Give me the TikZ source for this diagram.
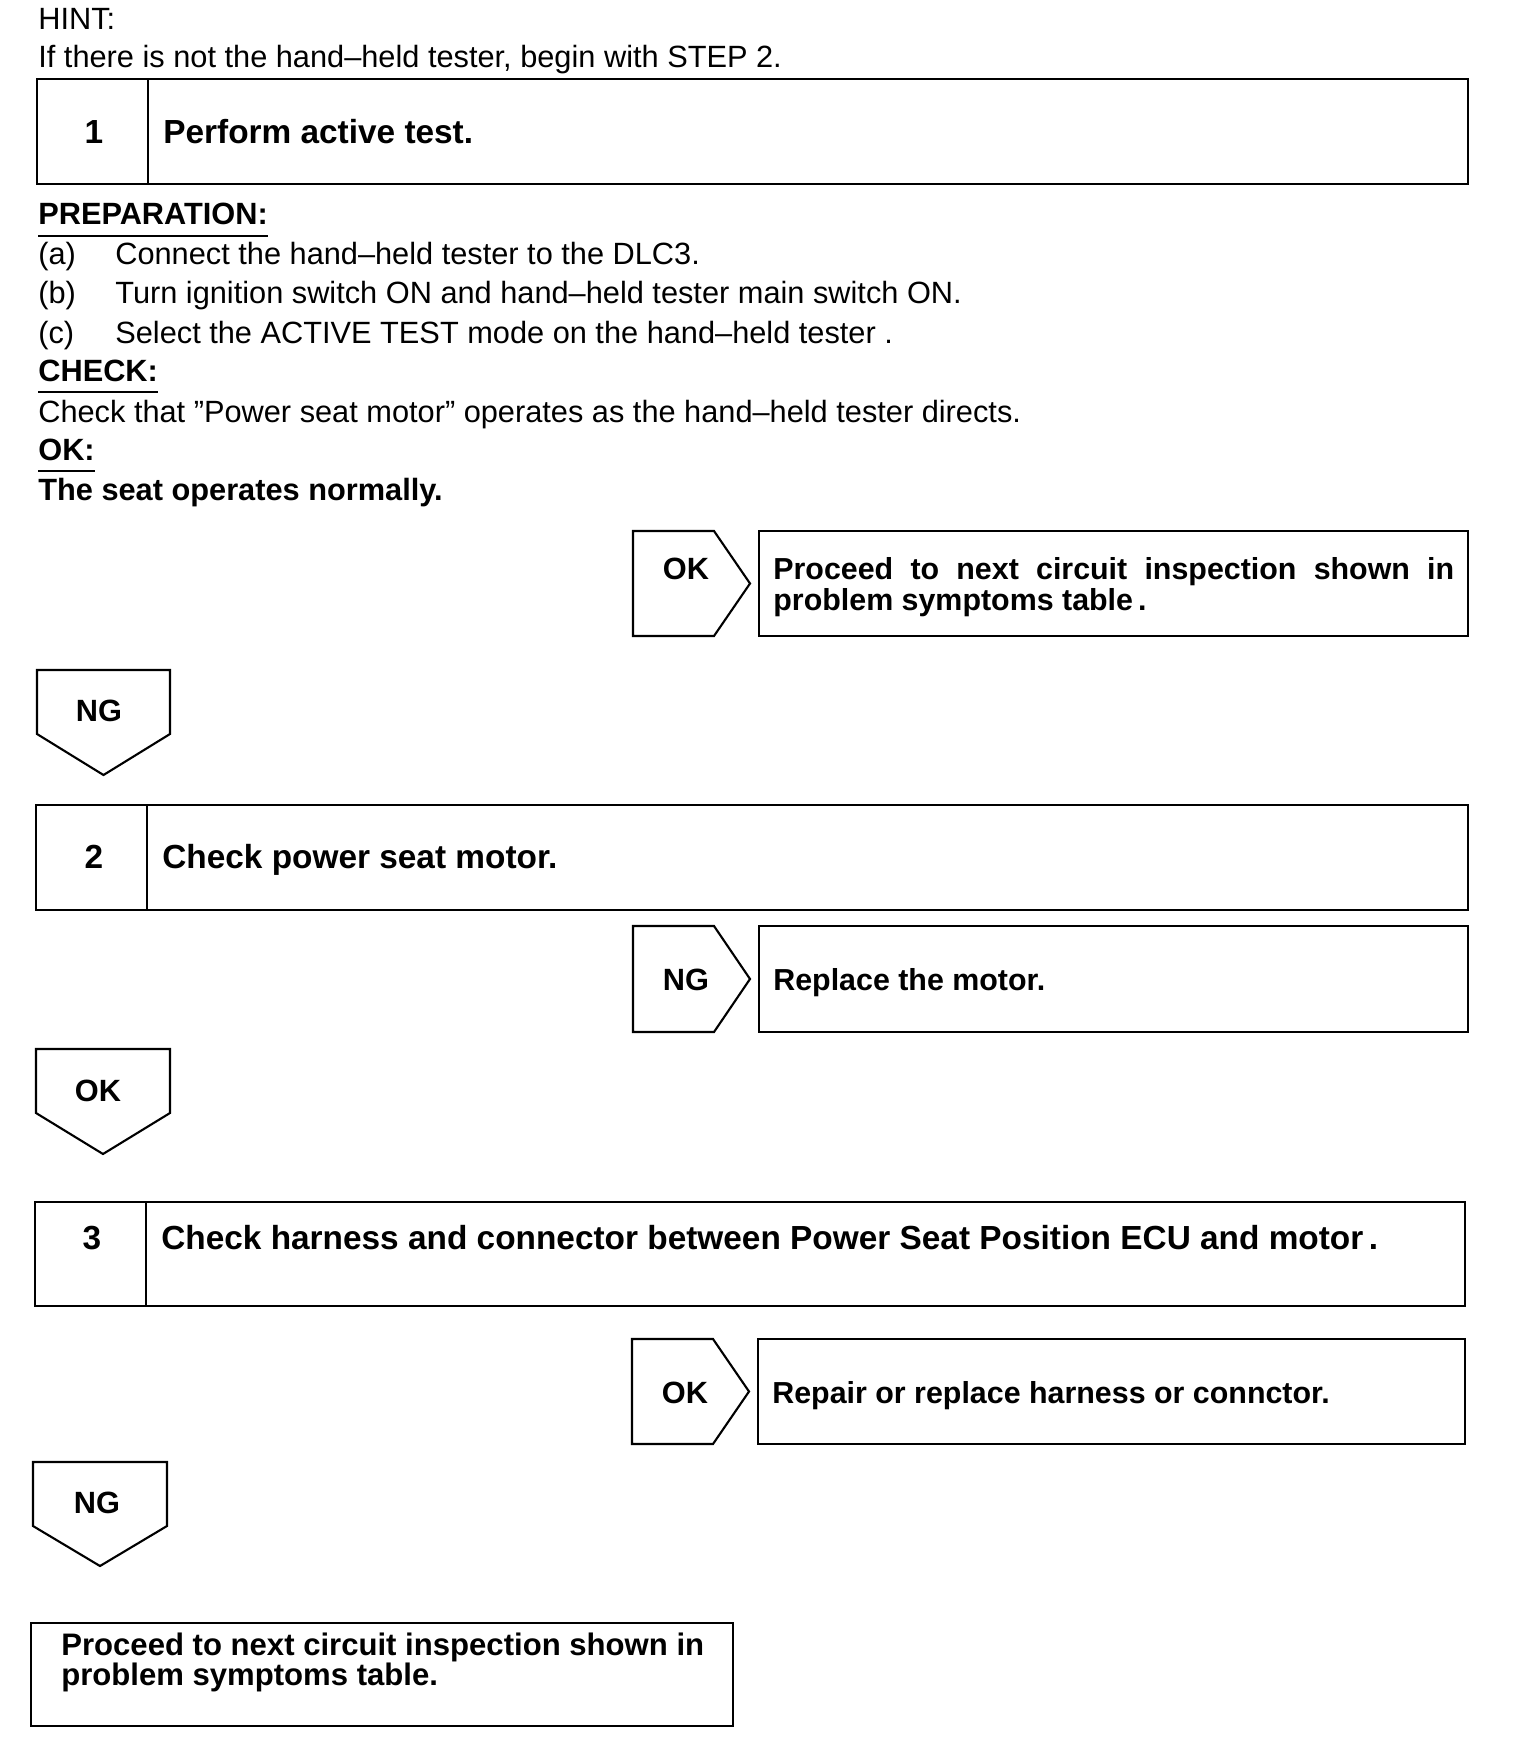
\documentclass[tikz,border=0pt]{standalone}
\usepackage{fontspec}
\setmainfont{Liberation Sans}
\usetikzlibrary{positioning}

\begin{document}
\begin{tikzpicture}[x=0.02cm,y=-0.02cm,
    every node/.style={inner sep=0pt},
    body/.style={anchor=base west,font=\fontsize{17.5}{21}\selectfont},
    bodybold/.style={anchor=base west,font=\bfseries\fontsize{17.5}{21}\selectfont},
    title/.style={anchor=base west,font=\bfseries\fontsize{19}{22}\selectfont},
    stepnum/.style={anchor=base,font=\bfseries\fontsize{19}{22}\selectfont},
    result/.style={anchor=base west,font=\bfseries\fontsize{17.3}{18}\selectfont},
    tag/.style={anchor=base,font=\bfseries\fontsize{17.5}{21}\selectfont},
    frame/.style={line width=1.5pt},
    tagline/.style={line width=1.2pt,line join=miter},
    uline/.style={line width=1.1pt}]
  \useasboundingbox (0,0) rectangle (1520,1750);

  % Hint and step 1
  \node[body] (hint) at (38,30) {HINT:};
  \node[body] (hinttxt) at (38,68) {If there is not the hand–held tester, begin with STEP 2.};
  \draw[frame] (37,79) rectangle (1468,184);
  \draw[frame] (148,79) -- (148,184);
  \node[stepnum] (num1) at (94,144) {1};
  \node[title] (step1) at (163,144) {Perform active test.};

  % Preparation / check text
  \node[bodybold] (prep) at (38,225) {PREPARATION:};
  \draw[uline] ([yshift=-6pt]prep.base west) -- ([yshift=-6pt]prep.base east);
  \node[body] (pa) at (38,265) {(a)};
  \node[body] (patxt) at (115,265) {Connect the hand–held tester to the DLC3.};
  \node[body] (pb) at (38,304) {(b)};
  \node[body] (pbtxt) at (115,304) {Turn ignition switch ON and hand–held tester main switch ON.};
  \node[body] (pc) at (38,343) {(c)};
  \node[body] (pctxt) at (115,343) {Select the ACTIVE TEST mode on the hand–held tester .};
  \node[bodybold] (check) at (38,381) {CHECK:};
  \draw[uline] ([yshift=-6pt]check.base west) -- ([yshift=-6pt]check.base east);
  \node[body] (checktxt) at (38,422) {Check that ”Power seat motor” operates as the hand–held tester directs.};
  \node[bodybold] (ok) at (38,460) {OK:};
  \draw[uline] ([yshift=-6pt]ok.base west) -- ([yshift=-6pt]ok.base east);
  \node[bodybold] (oktxt) at (38,500) {The seat operates normally.};

  % Step 1 results
  \draw[tagline] (633,531) -- (714,531) -- (750,583.5) -- (714,636) -- (633,636) -- cycle;
  \node[tag] (ok1) at (686,579) {OK};
  \draw[frame] (759,531) rectangle (1468,636);
  \node[result] (res1a) at (773,579) {\makebox[13.62cm][s]{Proceed to next circuit inspection shown in}};
  \node[result] (res1b) at (773,610) {problem symptoms table\,.};
  \draw[tagline] (37,670) -- (170,670) -- (170,734) -- (103.5,775) -- (37,734) -- cycle;
  \node[tag] (ng1) at (99,721) {NG};

  % Step 2
  \draw[frame] (36,805) rectangle (1468,910);
  \draw[frame] (147,805) -- (147,910);
  \node[stepnum] (num2) at (94,868) {2};
  \node[title] (step2) at (162,868) {Check power seat motor.};
  \draw[tagline] (633,926) -- (714,926) -- (750,979) -- (714,1032) -- (633,1032) -- cycle;
  \node[tag] (ng2) at (686,990) {NG};
  \draw[frame] (759,926) rectangle (1468,1032);
  \node[result] (res2) at (773,990) {Replace the motor.};
  \draw[tagline] (36,1049) -- (170,1049) -- (170,1113) -- (103,1154) -- (36,1113) -- cycle;
  \node[tag] (ok2) at (98,1101) {OK};

  % Step 3
  \draw[frame] (35,1202) rectangle (1465,1306);
  \draw[frame] (146,1202) -- (146,1306);
  \node[stepnum] (num3) at (92,1249) {3};
  \node[title] (step3) at (161,1249) {Check harness and connector between Power Seat Position ECU and motor\,.};
  \draw[tagline] (632,1339) -- (713,1339) -- (749,1391.5) -- (713,1444) -- (632,1444) -- cycle;
  \node[tag] (ok3) at (685,1403) {OK};
  \draw[frame] (758,1339) rectangle (1465,1444);
  \node[result] (res3) at (772,1403) {Repair or replace harness or connctor.};
  \draw[tagline] (33,1462) -- (167,1462) -- (167,1526) -- (100,1566) -- (33,1526) -- cycle;
  \node[tag] (ng3) at (97,1513) {NG};

  % Final result
  \draw[frame] (31,1623) rectangle (733,1726);
  \node[result,font=\bfseries\fontsize{17.7}{18}\selectfont] (fin1) at (61,1655) {Proceed to next circuit inspection shown in};
  \node[result,font=\bfseries\fontsize{17.7}{18}\selectfont] (fin2) at (61,1685) {problem symptoms table.};
\end{tikzpicture}
\end{document}
